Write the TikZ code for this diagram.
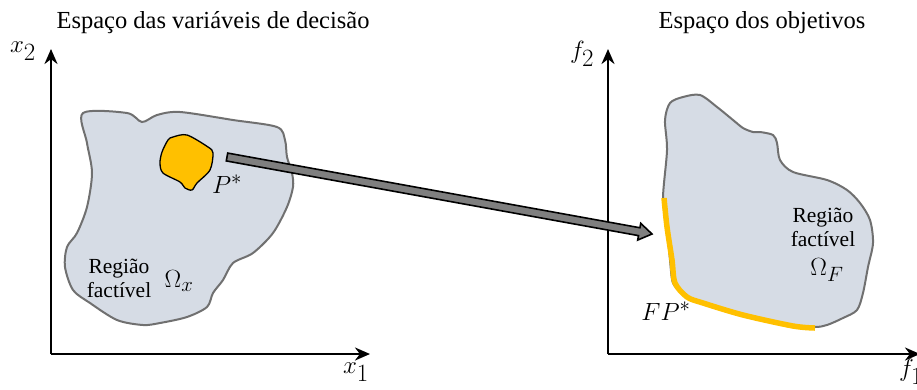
\documentclass[tikz,border=0pt]{standalone}
\usepackage{fontspec}
\setmainfont{Liberation Serif}
\usetikzlibrary{arrows.meta,calc}
\definecolor{regfill}{HTML}{D6DCE5}
\definecolor{regline}{HTML}{707070}
\definecolor{gold}{HTML}{FFC000}
\definecolor{arrgray}{HTML}{7F7F7F}
\begin{document}
\begin{tikzpicture}[x=1pt,y=-1pt,
  axis/.style={line width=2.6pt,-{Stealth[length=15pt,width=13pt]}},
  region/.style={fill=regfill,draw=regline,line width=2pt},
  title/.style={font=\fontsize{24.5}{28}\selectfont},
  rlabel/.style={font=\fontsize{21.5}{24}\selectfont,align=center},
  mlabel/.style={font=\fontsize{33}{36}\selectfont},
  plabel/.style={font=\fontsize{28}{32}\selectfont}]
\useasboundingbox (0,0) rectangle (917,389);
% ---------- left panel ----------
\coordinate (o1) at (51,354);
\coordinate (y1) at (51,49);
\coordinate (x1e) at (370,354);
\draw[region] plot[smooth cycle,tension=0.5] coordinates {
 (83,113) (127,113) (142,122) (157,115) (180,112) (233,120) (277,127)
 (285,140) (287,157) (292,173) (293,187) (287,207) (273,233) (253,253)
 (233,263) (223,280) (213,293) (207,307) (187,317) (160,323) (143,325)
 (117,320) (90,303) (73,290) (65,267) (67,247) (77,233) (87,207)
 (92,173) (87,143)};
\draw[fill=gold,draw=black,line width=1.3pt] plot[smooth cycle,tension=0.5] coordinates {
 (173,137) (187,135) (208,147) (213,153) (210,170) (197,183) (192,190)
 (185,188) (180,182) (163,173) (160,163) (162,152) (168,140)};
\draw[axis] (o1) -- (y1);
\draw[axis] (o1) -- (x1e);
\node[mlabel] (lx2) at (23,51) {$x_2$};
\node[mlabel] (lx1) at (356,372) {$x_1$};
\node[title] (t1) at (213,23) {Espaço das variáveis de decisão};
\node[plabel] (lp) at (227,184) {$P^*$};
\node[rlabel] (rf1) at (119,278) {Região\\factível};
\node[plabel] (om1) at (179,281) {$\Omega_x$};
% ---------- right panel ----------
\coordinate (o2) at (608,354);
\coordinate (y2) at (608,49);
\coordinate (x2e) at (920,354);
\draw[region] plot[smooth cycle,tension=0.5] coordinates {
 (670,103) (683,97) (700,95) (717,107) (733,120) (743,128) (753,132)
 (760,132) (773,135) (777,143) (780,160) (793,172) (827,180) (847,190)
 (860,203) (870,220) (873,243) (868,267) (863,293) (857,310) (843,318)
 (827,325) (815,327) (793,325) (743,315) (700,303) (683,293) (673,283)
 (670,260) (667,227) (663,198) (667,150) (665,120)};
\draw[gold,line width=5.5pt] plot[smooth,tension=0.5] coordinates {
 (664,198) (667,227) (672,260) (675,283) (687,297) (703,303) (743,315)
 (793,326) (815,328)};
\draw[axis] (o2) -- (y2);
\draw[axis] (o2) -- (x2e);
\node[mlabel] (lf2) at (582,54) {$f_2$};
\node[mlabel] (lf1) at (911,372) {$f_1$};
\node[title] (t2) at (762,23) {Espaço dos objetivos};
\node[rlabel] (rf2) at (823,227) {Região\\factível};
\node[plabel] (om2) at (827,270) {$\Omega_F$};
\node[font=\fontsize{30}{33}\selectfont] (lfp) at (666,311) {$FP^*$};
% ---------- mapping arrow ----------
\coordinate (A) at (227,157);
\coordinate (B) at (652,234);
\draw[fill=arrgray,draw=black,line width=1.6pt,line join=miter]
  ($(A)!4pt!90:(B)$) --
  ($(B)!13pt!(A)!4pt!-90:(A)$) --
  ($(B)!13pt!(A)!8.5pt!-90:(A)$) --
  (B) --
  ($(B)!13pt!(A)!8.5pt!90:(A)$) --
  ($(B)!13pt!(A)!4pt!90:(A)$) --
  ($(A)!4pt!-90:(B)$) -- cycle;
\end{tikzpicture}
\end{document}
